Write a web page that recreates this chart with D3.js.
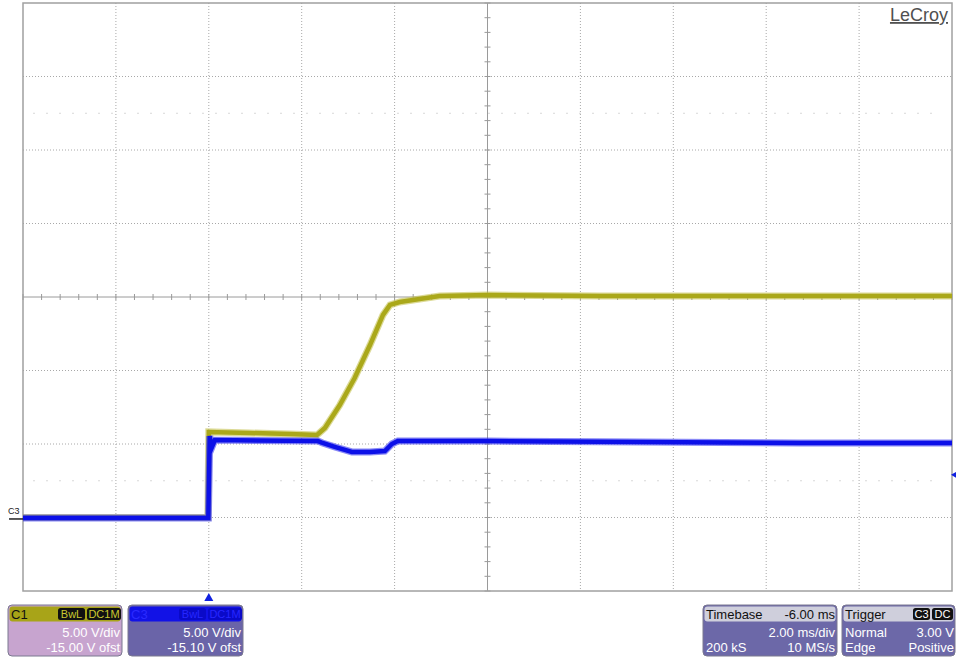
<!DOCTYPE html>
<html>
<head>
<meta charset="utf-8">
<script src="https://cdn.jsdelivr.net/npm/d3@7"></script>
<style>
  body { margin: 0; background: #fff; }
  svg { display: block; font-family: "Liberation Sans", Arial, sans-serif; }
</style>
</head>
<body>
<svg width="956" height="657"></svg>
<script>
// scope settings
const timeDomain = [-4, 16];          // ms, 2 ms/div, 10 div
const c1Domain = [-5, 35];            // V, 5 V/div, offset -15.00
const c3Domain = [-4.9, 35.1];        // V, 5 V/div, offset -15.10

// C1 (yellow) trace, time in ms, volts
const c1Time = [-4, -0.02, 0, 0.88, 1.74, 2.33, 2.50, 2.82, 3.14, 3.47, 3.75, 3.90, 4.11, 4.54, 4.97, 6.01, 8.42, 12.7, 16];
const c1Volt = [0, 0, 5.82, 5.75, 5.68, 5.61, 6.09, 7.65, 9.49, 11.73, 13.78, 14.46, 14.66, 14.86, 15.07, 15.14, 15.07, 15.07, 15.07];

// C3 (blue) trace
const c3Time = [-4, -0.01, 0.02, 0.06, 0.13, 2.35, 2.45, 2.71, 3.08, 3.47, 3.79, 3.94, 4.07, 4.33, 6.01, 8.42, 12.72, 16];
const c3Volt = [0.07, 0.07, 5.64, 4.83, 5.37, 5.30, 5.17, 4.90, 4.56, 4.56, 4.62, 5.10, 5.30, 5.30, 5.30, 5.25, 5.17, 5.17];

// info panels
const c1Panel = ["C1", "BwL", "DC1M", "5.00 V/div", "-15.00 V ofst"];
const c3Panel = ["C3", "BwL", "DC1M", "5.00 V/div", "-15.10 V ofst"];
const timebasePanel = ["Timebase", "-6.00 ms", "2.00 ms/div", "200 kS", "10 MS/s"];
const triggerPanel = ["Trigger", "C3", "DC", "Normal", "3.00 V", "Edge", "Positive"];

const svg = d3.select("svg");

const x = d3.scaleLinear().domain(timeDomain).range([23, 952]);
const yC1 = d3.scaleLinear().domain(c1Domain).range([591, 3]);
const yC3 = d3.scaleLinear().domain(c3Domain).range([591, 3]);

const gLeft = x.range()[0], gRight = x.range()[1];
const gTop = yC1.range()[1], gBottom = yC1.range()[0];
const cx = x(6), cy = yC1(15);

const grid = svg.append("g").attr("id", "graticule");

// dotted division lines
const xDivs = d3.range(timeDomain[0] + 2, timeDomain[1], 2).filter(t => t !== 6);
const yDivs = d3.range(c1Domain[0] + 5, c1Domain[1], 5).filter(v => v !== 15);

grid.selectAll("line.vx").data(xDivs).enter().append("line")
    .attr("x1", d => x(d)).attr("x2", d => x(d))
    .attr("y1", gTop).attr("y2", gBottom)
    .attr("stroke", "#a8a8a8").attr("stroke-dasharray", "1,2");

grid.selectAll("line.hy").data(yDivs).enter().append("line")
    .attr("y1", d => yC1(d)).attr("y2", d => yC1(d))
    .attr("x1", gLeft).attr("x2", gRight)
    .attr("stroke", "#a8a8a8").attr("stroke-dasharray", "1,2");

// faint dotted rows
[yC1(27.5), yC1(2.5)].forEach(yy => {
    grid.append("line")
        .attr("x1", gLeft + 10).attr("x2", gRight - 10)
        .attr("y1", yy).attr("y2", yy)
        .attr("stroke", "#d8d8d8").attr("stroke-dasharray", "2,11");
});

// center axes with minor ticks
grid.append("line").attr("x1", gLeft).attr("x2", gRight).attr("y1", cy).attr("y2", cy)
    .attr("stroke", "#9a9a9a");
grid.append("line").attr("x1", cx).attr("x2", cx).attr("y1", gTop).attr("y2", gBottom)
    .attr("stroke", "#9a9a9a");

grid.selectAll("line.tx").data(d3.range(timeDomain[0], timeDomain[1] + 0.01, 0.4)).enter().append("line")
    .attr("x1", d => x(d)).attr("x2", d => x(d))
    .attr("y1", cy - 3).attr("y2", cy + 3)
    .attr("stroke", "#9a9a9a");
grid.selectAll("line.ty").data(d3.range(c1Domain[0], c1Domain[1] + 0.01, 1)).enter().append("line")
    .attr("y1", d => yC1(d)).attr("y2", d => yC1(d))
    .attr("x1", cx - 3).attr("x2", cx + 3)
    .attr("stroke", "#9a9a9a");

// border
grid.append("rect")
    .attr("x", gLeft).attr("y", gTop)
    .attr("width", gRight - gLeft).attr("height", gBottom - gTop)
    .attr("fill", "none").attr("stroke", "#a0a0a0").attr("stroke-width", 1.5);

// traces
const c1Data = c1Time.map((t, i) => [t, c1Volt[i]]);
const c3Data = c3Time.map((t, i) => [t, c3Volt[i]]);

const lineC1 = d3.line().x(d => x(d[0])).y(d => yC1(d[1]));
const lineC3 = d3.line().x(d => x(d[0])).y(d => yC3(d[1]));

const traces = svg.append("g").attr("id", "traces");

traces.append("path").datum(c1Data)
    .attr("d", lineC1).attr("fill", "none")
    .attr("stroke", "#c4c250").attr("stroke-width", 7).attr("opacity", 0.6);
traces.append("path").datum(c1Data)
    .attr("d", lineC1).attr("fill", "none")
    .attr("stroke", "#aaa81a").attr("stroke-width", 4.5);

traces.append("path").datum(c3Data)
    .attr("d", lineC3).attr("fill", "none")
    .attr("stroke", "#3a3af0").attr("stroke-width", 7).attr("opacity", 0.6);
traces.append("path").datum(c3Data)
    .attr("d", lineC3).attr("fill", "none")
    .attr("stroke", "#0c10e8").attr("stroke-width", 4.5);

// markers
svg.append("text").attr("x", 8).attr("y", 514)
    .attr("font-size", 9).attr("fill", "#222").text("C3");
svg.append("line").attr("x1", 9).attr("x2", 23).attr("y1", yC3(0)).attr("y2", yC3(0))
    .attr("stroke", "#222").attr("stroke-width", 1.5);

svg.append("path")
    .attr("d", `M${x(0)},${gBottom + 2} l-4.5,8 h9 z`)
    .attr("fill", "#1020e0");
svg.append("path")
    .attr("d", `M${gRight - 1},${yC3(3)} l6,-3.5 v7 z`)
    .attr("fill", "#1020e0");

// LeCroy logo
svg.append("text").attr("x", 948).attr("y", 21)
    .attr("text-anchor", "end").attr("font-size", 18)
    .attr("fill", "#505050").attr("text-decoration", "underline")
    .text("LeCroy");

// panels
const FS = 13;
function panel(px, pw, headFill, bodyFill) {
    const g = svg.append("g");
    g.append("rect").attr("x", px).attr("y", 605).attr("width", pw).attr("height", 51)
        .attr("rx", 4).attr("fill", bodyFill).attr("stroke", "#7a7890");
    g.append("rect").attr("x", px + 1.5).attr("y", 606.5).attr("width", pw - 3).attr("height", 15)
        .attr("rx", 3).attr("fill", headFill);
    return g;
}

function badge(g, bx, w, label, fill, color) {
    g.append("rect").attr("x", bx).attr("y", 608).attr("width", w).attr("height", 12)
        .attr("rx", 2.5).attr("fill", fill);
    g.append("text").attr("x", bx + w / 2).attr("y", 618).attr("text-anchor", "middle")
        .attr("font-size", 11).attr("fill", color).text(label);
}

function txt(g, tx, ty, s, color, anchor) {
    g.append("text").attr("x", tx).attr("y", ty).attr("font-size", FS)
        .attr("text-anchor", anchor || "start").attr("fill", color).text(s);
}

// C1
let g = panel(8, 114, "#a8a418", "#c7a4cf");
txt(g, 11, 619, c1Panel[0], "#111");
badge(g, 58, 27, c1Panel[1], "#111", "#c8c830");
badge(g, 87, 34, c1Panel[2], "#111", "#c8c830");
txt(g, 120, 637, c1Panel[3], "#fff", "end");
txt(g, 120, 652, c1Panel[4], "#fff", "end");

// C3
g = panel(128, 115, "#1212e6", "#6a64a8");
txt(g, 131, 619, c3Panel[0], "#2a2aff");
badge(g, 179, 27, c3Panel[1], "#0a0ac8", "#2626ff");
badge(g, 208, 34, c3Panel[2], "#0a0ac8", "#2626ff");
txt(g, 241, 637, c3Panel[3], "#fff", "end");
txt(g, 241, 652, c3Panel[4], "#fff", "end");

// Timebase
g = panel(703, 134, "#cfcfdc", "#6c68a8");
txt(g, 706, 619, timebasePanel[0], "#111");
txt(g, 835, 619, timebasePanel[1], "#111", "end");
txt(g, 835, 637, timebasePanel[2], "#fff", "end");
txt(g, 706, 652, timebasePanel[3], "#fff");
txt(g, 835, 652, timebasePanel[4], "#fff", "end");

// Trigger
g = panel(842, 113, "#cfcfdc", "#6c68a8");
txt(g, 845, 619, triggerPanel[0], "#111");
badge(g, 913, 17, triggerPanel[1], "#111", "#fff");
badge(g, 932, 21, triggerPanel[2], "#111", "#fff");
txt(g, 845, 637, triggerPanel[3], "#fff");
txt(g, 954, 637, triggerPanel[4], "#fff", "end");
txt(g, 845, 652, triggerPanel[5], "#fff");
txt(g, 954, 652, triggerPanel[6], "#fff", "end");
</script>
</body>
</html>
